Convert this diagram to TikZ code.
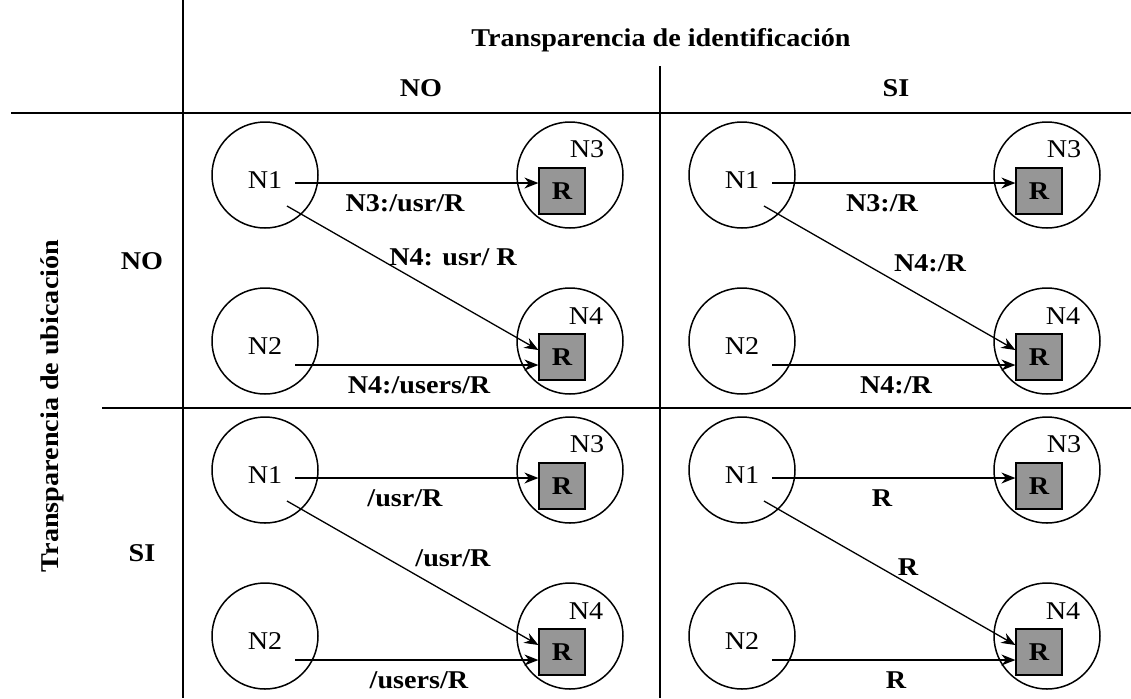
\documentclass[tikz,border=0pt]{standalone}
\usepackage{fontspec}
\setmainfont{Liberation Serif}[FakeStretch=1.1]
\usetikzlibrary{arrows.meta,calc,positioning}
\newcommand\cellfont{\fontsize{12.8}{15}\selectfont}
\tikzset{host/.style={draw,circle,line width=0.75pt,minimum size=53pt,inner sep=0pt},
  res/.style={draw,fill=black!41,line width=0.6pt,minimum size=23pt,inner sep=0pt,font=\cellfont\bfseries},
  path/.style={font=\cellfont\bfseries},
  head/.style={font=\cellfont\bfseries},
  rule/.style={line width=1pt}}

\begin{document}
\begin{tikzpicture}[x=0.5pt, y=-0.5pt, >={Stealth[length=7pt,width=5.5pt]}, line width=0.65pt,
  node distance=152.5pt, font=\cellfont]
\useasboundingbox (0,0) rectangle (1131,698);
% table frame
\draw[rule] (183,0) -- (183,698);
\draw[rule] (660,66) -- (660,698);
\draw[rule] (11,113) -- (1131,113);
\draw[rule] (102,408) -- (1131,408);
\node[head] (tid) at (661,40) {Transparencia de identificación};
\node[head] (cno) at (421,88) {NO};
\node[head] (csi) at (896,88) {SI};
\node[head, rotate=90] (tub) at (52,406) {Transparencia de ubicación};
\node[head] (rno) at (142,261) {NO};
\node[head] (rsi) at (142,553) {SI};

% one cell per combination
\foreach \c/\x/\y in {a/265/175, b/742/175, c/265/470, d/742/470}{
  \node[host, label={[yshift=-2.5pt]center:N1}] (N1\c) at (\x,\y) {};
  \node[host, right of=N1\c] (N3\c) {};
  \node[host, below of=N1\c, node distance=83pt, label={[yshift=-2.5pt]center:N2}] (N2\c) {};
  \node[host, right of=N2\c] (N4\c) {};
  \node at ([shift={(17,-26)}]N3\c) {N3};
  \node at ([shift={(16,-25)}]N4\c) {N4};
  \node[res] (R3\c) at ([shift={(-8,16)}]N3\c) {R};
  \node[res] (R4\c) at ([shift={(-8,16)}]N4\c) {R};
  \coordinate (s1\c) at ([shift={(30,8)}]N1\c.center);
  \coordinate (d1\c) at ([shift={(22,31)}]N1\c.center);
  \coordinate (s2\c) at ([shift={(30,24)}]N2\c.center);
  \draw[->] (s1\c) -- (s1\c -| R3\c.west);
  \draw[->] (d1\c) -- ([yshift=3.5pt]R4\c.west);
  \draw[->] (s2\c) -- (s2\c -| R4\c.west);
}

% NO / NO
\node[path] at ([shift={(140,28)}]N1a) {N3:/usr/R};
\node[path] at ([shift={(188,82)}]N1a) {N4: usr/ R};
\node[path] at ([shift={(154,44)}]N2a) {N4:/users/R};
% NO / SI
\node[path] at ([shift={(140,28)}]N1b) {N3:/R};
\node[path] at ([shift={(188,88)}]N1b) {N4:/R};
\node[path] at ([shift={(154,44)}]N2b) {N4:/R};
% SI / NO
\node[path] at ([shift={(140,28)}]N1c) {/usr/R};
\node[path] at ([shift={(188,88)}]N1c) {/usr/R};
\node[path] at ([shift={(154,44)}]N2c) {/users/R};
% SI / SI
\node[path] at ([shift={(140,28)}]N1d) {R};
\node[path] at ([shift={(166,97)}]N1d) {R};
\node[path] at ([shift={(154,44)}]N2d) {R};
\end{tikzpicture}
\end{document}
